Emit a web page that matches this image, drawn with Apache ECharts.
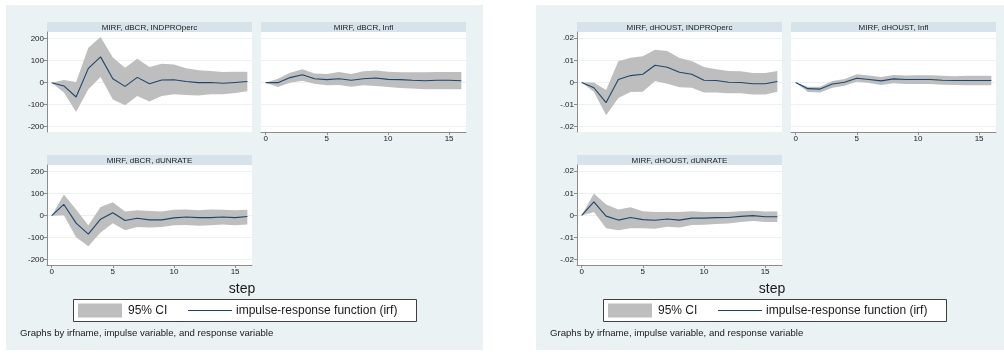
<!DOCTYPE html>
<html><head><meta charset="utf-8">
<script src="https://cdn.jsdelivr.net/npm/echarts@6/dist/echarts.min.js"></script>
<style>html,body{margin:0;padding:0;background:#fff;} #c{width:1004px;height:354px;}</style>
</head><body><div id="c"></div>
<script>
// ---------- data ----------
const steps = [0,1,2,3,4,5,6,7,8,9,10,11,12,13,14,15,16];
const xTicks = [0,5,10,15];
const yTicksBCR = [-200,-100,0,100,200];
const yTicksHOUST = [-0.02,-0.01,0,0.01,0.02];

const titlesBCR = ['MIRF, dBCR, INDPROperc','MIRF, dBCR, Infl','MIRF, dBCR, dUNRATE'];
const titlesHOUST = ['MIRF, dHOUST, INDPROperc','MIRF, dHOUST, Infl','MIRF, dHOUST, dUNRATE'];

const bcrIndproIrf = [0,-15,-65,65,117,18,-17,24,-5,12,13,5,0,1,-3,1,5];
const bcrIndproHi  = [0,12,3,159,207,114,68,109,71,86,82,65,56,53,48,50,50];
const bcrIndproLo  = [0,-45,-133,-30,26,-76,-103,-61,-85,-61,-53,-56,-58,-53,-53,-47,-39];

const bcrInflIrf = [0,0,23,36,18,14,18,11,18,21,15,14,11,9,11,11,9];
const bcrInflHi  = [0,18,45,61,42,39,48,39,52,55,50,47,47,47,48,48,48];
const bcrInflLo  = [0,-20,0,9,-5,-12,-11,-18,-12,-15,-20,-24,-27,-30,-30,-30,-30];

const bcrUnrateIrf = [0,51,-34,-84,-16,13,-22,-12,-19,-19,-10,-6,-9,-9,-6,-9,-4];
const bcrUnrateHi  = [0,96,28,-43,39,61,19,24,21,19,27,28,25,28,27,25,27];
const bcrUnrateLo  = [0,2,-98,-139,-76,-34,-66,-51,-54,-51,-43,-42,-46,-43,-40,-43,-40];

const houstIndproIrf = [0,-0.0024,-0.0091,0.0013,0.0031,0.0037,0.0078,0.0069,0.0046,0.0037,0.0010,0.0009,0.0001,0,-0.0006,-0.0006,0.0004];
const houstIndproHi  = [0,0,-0.0034,0.0096,0.0112,0.0118,0.0148,0.0142,0.0110,0.0097,0.0070,0.0060,0.0052,0.0051,0.0043,0.0043,0.0052];
const houstIndproLo  = [0,-0.0042,-0.0148,-0.0070,-0.0043,-0.0042,0.0007,-0.0006,-0.0022,-0.0024,-0.0045,-0.0045,-0.0049,-0.0049,-0.0054,-0.0054,-0.0042];

const houstInflIrf = [0,-0.0028,-0.0030,-0.0007,0.0001,0.0019,0.0013,0.0007,0.0016,0.0013,0.0013,0.0013,0.0010,0.0009,0.0009,0.0009,0.0009];
const houstInflHi  = [0,-0.0019,-0.0019,0.0007,0.0016,0.0037,0.0031,0.0025,0.0034,0.0031,0.0033,0.0033,0.0030,0.0028,0.0030,0.0030,0.0030];
const houstInflLo  = [0,-0.0043,-0.0045,-0.0024,-0.0015,0.0003,-0.0003,-0.0012,-0.0004,-0.0007,-0.0007,-0.0007,-0.0010,-0.0012,-0.0013,-0.0013,-0.0013];

const houstUnrateIrf = [0,0.0061,-0.0003,-0.0021,-0.0009,-0.0019,-0.0022,-0.0016,-0.0021,-0.0012,-0.0012,-0.0010,-0.0009,-0.0004,-0.0001,-0.0006,-0.0006];
const houstUnrateHi  = [0,0.0099,0.0049,0.0027,0.0037,0.0019,0.0016,0.0016,0.0015,0.0019,0.0016,0.0016,0.0016,0.0019,0.0021,0.0018,0.0018];
const houstUnrateLo  = [0,0.0016,-0.0058,-0.0067,-0.0058,-0.0058,-0.0060,-0.0051,-0.0054,-0.0043,-0.0042,-0.0039,-0.0036,-0.0030,-0.0025,-0.0030,-0.0030];

const legendCI = '95% CI';
const legendIrf = 'impulse-response function (irf)';
const xTitle = 'step';
const note = 'Graphs by irfname, impulse variable, and response variable';

// ---------- style ----------
const FONT = '"Liberation Sans", Arial, Helvetica, sans-serif';
const BG = '#EAF2F3', STRIP = '#D7E3EA', GRIDC = '#EAF2F3', CI = '#BEBEBE', NAVY = '#1A476F', AX = '#8C8C8C';

const fmtBCR = v => String(v);
const fmtHOUST = v => v === 0 ? '0' : (v < 0 ? '-' : '') + Math.abs(v).toFixed(2).replace(/^0/, '');

const panels = [
  { ox: 0, titles: titlesBCR, yTicks: yTicksBCR, fmt: fmtBCR, ymin: -224, ymax: 230,
    sets: [[bcrIndproIrf,bcrIndproHi,bcrIndproLo],[bcrInflIrf,bcrInflHi,bcrInflLo],[bcrUnrateIrf,bcrUnrateHi,bcrUnrateLo]] },
  { ox: 530, titles: titlesHOUST, yTicks: yTicksHOUST, fmt: fmtHOUST, ymin: -0.0224, ymax: 0.0228,
    sets: [[houstIndproIrf,houstIndproHi,houstIndproLo],[houstInflIrf,houstInflHi,houstInflLo],[houstUnrateIrf,houstUnrateHi,houstUnrateLo]] }
];
// cell layout: [left, top, showY, showX]
const cells = [[47,32,true,false],[261,32,false,true],[47,165,true,true]];
const PW = 205, PH = 100, STRIPH = 10;

// CI band drawn as one polygon through the axes' own scales
function bandRenderer(lo, hi) {
  return function (params, api) {
    if (params.dataIndex !== 0) return null;
    const pts = [];
    for (let j = 0; j < steps.length; j++) pts.push(api.coord([steps[j], hi[j]]));
    for (let j = steps.length - 1; j >= 0; j--) pts.push(api.coord([steps[j], lo[j]]));
    const cs = params.coordSys;
    return { type:'polygon', shape:{points:pts}, style:{fill:CI, stroke:null},
      clipPath:{ type:'rect', shape:{x:cs.x, y:cs.y, width:cs.width, height:cs.height} } };
  };
}

const grid = [], xAxis = [], yAxis = [], series = [], elements = [];
let gi = 0;
panels.forEach(p => {
  elements.push({ type:'rect', z:-10, shape:{x:p.ox+6, y:5, width:477, height:345}, style:{fill:BG} });
  cells.forEach((c, k) => {
    const [l, t, showY, showX] = c;
    grid.push({ left:p.ox+l, top:t, width:PW, height:PH, show:true, backgroundColor:'#fff', borderWidth:0 });
    elements.push({ type:'rect', shape:{x:p.ox+l, y:t-STRIPH, width:PW, height:STRIPH}, style:{fill:STRIP} });
    elements.push({ type:'text', x:p.ox+l+PW/2, y:t-STRIPH/2+0.5, style:{text:p.titles[k], font:'8px '+FONT, fill:'#1a1a1a', align:'center', verticalAlign:'middle'} });
    xAxis.push({ type:'value', gridIndex:gi, min:-0.38, max:16.38,
      axisLine:{show:showX, onZero:false, lineStyle:{color:AX, width:1}},
      axisTick:{show:showX, length:3, customValues:xTicks, lineStyle:{color:AX}},
      axisLabel:{show:showX, customValues:xTicks, fontSize:8, color:'#222', margin:3, fontFamily:FONT},
      splitLine:{show:false} });
    yAxis.push({ type:'value', gridIndex:gi, min:p.ymin, max:p.ymax,
      axisLine:{show:showY, onZero:false, lineStyle:{color:AX, width:1}},
      axisTick:{show:showY, length:3, customValues:p.yTicks, lineStyle:{color:AX}},
      axisLabel:{show:showY, customValues:p.yTicks, formatter:p.fmt, fontSize:8, color:'#222', margin:3, fontFamily:FONT},
      splitLine:{show:true, lineStyle:{color:GRIDC, width:1}} });
    const [irf, hi, lo] = p.sets[k];
    series.push({ type:'custom', name:legendCI, xAxisIndex:gi, yAxisIndex:gi, silent:true, z:1,
      renderItem: bandRenderer(lo, hi),
      data: steps.map((s,j)=>[s, lo[j], hi[j]]), encode:{x:0, y:[1,2]} });
    series.push({ type:'line', name:legendIrf, xAxisIndex:gi, yAxisIndex:gi,
      data: steps.map((s,j)=>[s, irf[j]]), symbol:'none', lineStyle:{color:NAVY, width:1.1}, silent:true, z:3 });
    gi++;
  });
  elements.push({ type:'text', x:p.ox+242, y:289, style:{text:xTitle, font:'14px '+FONT, fill:'#1a1a1a', align:'center', verticalAlign:'middle'} });
  elements.push({ type:'rect', shape:{x:p.ox+73.5, y:299.5, width:343, height:22}, style:{fill:'#fff', stroke:'#404040', lineWidth:1} });
  elements.push({ type:'rect', shape:{x:p.ox+78, y:303.5, width:44, height:14}, style:{fill:CI} });
  elements.push({ type:'text', x:p.ox+128, y:311, style:{text:legendCI, font:'12px '+FONT, fill:'#1a1a1a', verticalAlign:'middle'} });
  elements.push({ type:'line', shape:{x1:p.ox+188, y1:310.5, x2:p.ox+232, y2:310.5}, style:{stroke:NAVY, lineWidth:1.1} });
  elements.push({ type:'text', x:p.ox+236, y:311, style:{text:legendIrf, font:'12px '+FONT, fill:'#1a1a1a', verticalAlign:'middle'} });
  elements.push({ type:'text', x:p.ox+20, y:333, style:{text:note, font:'9.6px '+FONT, fill:'#1a1a1a', verticalAlign:'middle'} });
});

const chart = echarts.init(document.getElementById('c'), null, {renderer:'canvas'});
chart.setOption({
  backgroundColor:'#fff',
  animation:false,
  grid, xAxis, yAxis, series,
  graphic:{ elements }
});
</script>
</body></html>
